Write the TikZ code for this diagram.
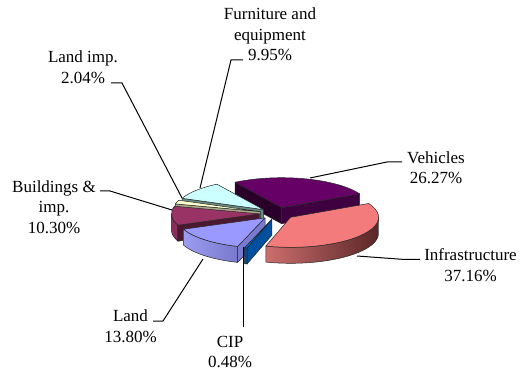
\documentclass[tikz,border=0pt]{standalone}
\usepackage{fontspec}
\setmainfont{Liberation Serif}
\newfontfamily\lblserif{Liberation Serif}
\def\pieD{16pt}
\newcommand\pieTop[3]{\path[outl, fill=#3] (0,0) -- (#1:88pt and 30pt) arc[start angle=#1, end angle=#2, x radius=88pt, y radius=30pt] -- cycle;}
\newcommand\pieWall[3]{\path[outl, #3] (#1:88pt and 30pt) arc[start angle=#1, end angle=#2, x radius=88pt, y radius=30pt] -- ++(0,-\pieD) arc[start angle=#2, end angle=#1, x radius=88pt, y radius=30pt] -- cycle;}
\newcommand\pieFace[2]{\path[outl, fill=#2] (0,0) -- (#1:88pt and 30pt) -- ++(0,-\pieD) -- (0,-\pieD) -- cycle;}
\definecolor{vehTop}{HTML}{660066}
\definecolor{vehL}{HTML}{2A002A}
\definecolor{vehR}{HTML}{3E003E}
\definecolor{infTop}{HTML}{F47B7B}
\definecolor{infWL}{HTML}{CC6E6E}
\definecolor{infWR}{HTML}{5A2626}
\definecolor{cipTop}{HTML}{0066CC}
\definecolor{cipSide}{HTML}{00509F}
\definecolor{landTop}{HTML}{9999FF}
\definecolor{landFace}{HTML}{7A7AD0}
\definecolor{landWL}{HTML}{9C9CF2}
\definecolor{landWR}{HTML}{7878CC}
\definecolor{bldTop}{HTML}{993366}
\definecolor{bldFace}{HTML}{4A1830}
\definecolor{bldW}{HTML}{8A2D5B}
\definecolor{limpTop}{HTML}{FFFFCC}
\definecolor{limpFace}{HTML}{A9A98A}
\definecolor{furTop}{HTML}{CCFFFF}
\definecolor{furFace}{HTML}{668A84}
\begin{document}
\begin{tikzpicture}[x=1pt,y=1pt,
  outl/.style={draw=black!85, line width=0.5pt, line join=round},
  lead/.style={draw=black, line width=1pt},
  lbl/.style={align=center, inner sep=0pt, font=\lblserif\fontsize{17}{20.5}\selectfont}]
\useasboundingbox (0,0) rectangle (520,370);
\fill[white] (0,0) rectangle (520,370);
% Vehicles
\begin{scope}[shift={(277,156.5)}, shift={(74.7:17.6pt and 6pt)}]
  \pieFace{122}{vehL}
  \pieFace{27.43}{vehR}
  \pieTop{122}{27.43}{vehTop}
\end{scope}
% Furniture and equipment
\begin{scope}[shift={(277,156.5)}, shift={(139.9:17.6pt and 6pt)}]
  \pieFace{157.82}{furFace}
  \pieTop{157.82}{122}{furTop}
\end{scope}
% Land imp.
\begin{scope}[shift={(277,156.5)}, shift={(161.45:17.6pt and 6pt)}]
  \pieFace{165.16}{limpFace}
  \pieTop{165.16}{157.82}{limpTop}
\end{scope}
% Buildings & imp.
\begin{scope}[shift={(277,156.5)}, shift={(183.65:17.6pt and 6pt)}]
  \pieWall{-157.76}{-180}{fill=bldW}
  \pieFace{-157.76}{bldFace}
  \pieTop{-157.76}{-194.84}{bldTop}
\end{scope}
% Land
\begin{scope}[shift={(277,156.5)}, shift={(-132.92:17.6pt and 6pt)}]
  \pieWall{-108.08}{-157.76}{left color=landWL, right color=landWR}
  \pieFace{-108.08}{landFace}
  \pieTop{-108.08}{-157.76}{landTop}
\end{scope}
% CIP
\begin{scope}[shift={(277,156.5)}, shift={(-107.2:17.6pt and 6pt)}]
  \pieWall{-106.35}{-108.08}{fill=cipSide}
  \pieFace{-106.35}{cipSide}
  \pieTop{-106.35}{-108.08}{cipTop}
\end{scope}
% Infrastructure
\begin{scope}[shift={(277,156.5)}, shift={(-39.46:17.6pt and 6pt)}]
  \pieWall{0}{-106.35}{left color=infWL, right color=infWR}
  \pieTop{27.43}{-106.35}{infTop}
\end{scope}
% labels
\node[lbl] (lfur) at (270,335.5) {Furniture and\\equipment\\9.95\%};
\node[lbl] (llimp) at (83,303) {Land imp.\\2.04\%};
\node[lbl] (lbld) at (54,163) {Buildings \&\\imp.\\10.30\%};
\node[lbl] (lland) at (130.5,44) {Land\\13.80\%};
\node[lbl] (lcip) at (230,18) {CIP\\0.48\%};
\node[lbl] (lveh) at (436,202.5) {Vehicles\\26.27\%};
\node[lbl] (linf) at (470.5,105) {Infrastructure\\37.16\%};
% leader lines
\coordinate (furA) at (243,310); \coordinate (furP) at (200,182);
\coordinate (limpA) at (111,287); \coordinate (limpP) at (182,172);
\coordinate (bldA) at (100,179); \coordinate (bldP) at (172,160);
\coordinate (landA) at (153,49); \coordinate (landP) at (203,111);
\coordinate (cipA) at (243,43); \coordinate (cipP) at (243,123);
\coordinate (vehA) at (402,208); \coordinate (vehP) at (310,192);
\coordinate (infA) at (420,110.5); \coordinate (infP) at (357,114);
\draw[lead] (furA) -- ++(-12,0) -- (furP);
\draw[lead] (limpA) -- ++(11,0) -- (limpP);
\draw[lead] (bldA) -- ++(10,0) -- (bldP);
\draw[lead] (landA) -- ++(10,0) -- (landP);
\draw[lead] (cipA) -- (cipP);
\draw[lead] (vehA) -- ++(-15,0) -- (vehP);
\draw[lead] (infA) -- ++(-15,0) -- (infP);
\end{tikzpicture}
\end{document}
